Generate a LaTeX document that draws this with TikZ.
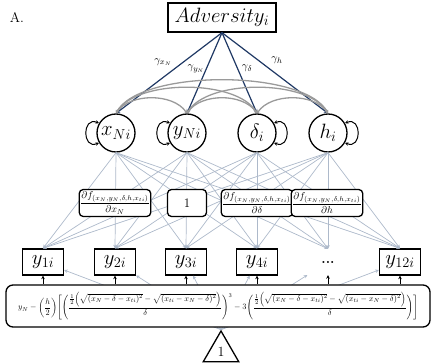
\documentclass[tikz,border=0pt]{standalone}
\usepackage{graphicx}
\usetikzlibrary{arrows.meta,shapes.geometric}
\definecolor{navy}{HTML}{1F3864}
\definecolor{loadc}{HTML}{ADB9CA}
\definecolor{covc}{HTML}{9A9A9A}
\begin{document}
\begin{tikzpicture}[x=1pt,y=1pt,
  lat/.style={circle,draw,line width=1.3pt,minimum size=38pt,inner sep=0pt,fill=white,font=\fontsize{20}{20}\selectfont},
  ind/.style={rectangle,draw,line width=1.3pt,minimum width=41pt,minimum height=26pt,inner sep=0pt,fill=white,font=\fontsize{20}{20}\selectfont},
  dots/.style={rectangle,minimum width=41pt,minimum height=26pt,inner sep=0pt,font=\fontsize{14}{14}\selectfont},
  der/.style={rectangle,rounded corners=4pt,draw,line width=1.3pt,minimum height=27pt,inner sep=1pt,fill=white,font=\fontsize{10}{11}\selectfont},
  load/.style={draw=loadc,line width=0.7pt,-{Stealth[length=3.5pt,width=3.5pt]}},
  reg/.style={draw=navy,line width=1.2pt,-{Stealth[length=4pt,width=4pt]}},
  cov/.style={draw=covc,line width=1.3pt,{Stealth[length=3pt,width=3.5pt]}-{Stealth[length=3pt,width=3.5pt]}},
  var/.style={draw=black,line width=1pt,{Stealth[length=3.5pt,width=3.5pt]}-{Stealth[length=3.5pt,width=3.5pt]}},
  mean/.style={draw=black,line width=1pt,-{Stealth[length=3.5pt,width=3.5pt]}},
  glab/.style={font=\fontsize{11}{11}\selectfont,inner sep=0pt}]
\useasboundingbox (0,0) rectangle (439,364);

\node[font=\fontsize{14}{14}\selectfont] (lblA) at (17,346) {A.};

% top exogenous
\node[rectangle,draw,line width=1.3pt,minimum width=108pt,minimum height=29pt,inner sep=0pt,font=\fontsize{22}{22}\selectfont] (adv) at (222,346.5) {$Adversity_i$};

% latent variables
\node[lat] (xn) at (116,231) {$x_{Ni}$};
\node[lat] (yn) at (187,231) {$y_{Ni}$};
\node[lat] (de) at (257,231) {$\delta_i$};
\node[lat] (hh) at (328,231) {$h_i$};

% indicators
\node[ind] (y1) at (43,102) {$y_{1i}$};
\node[ind] (y2) at (115,102) {$y_{2i}$};
\node[ind] (y3) at (186,102) {$y_{3i}$};
\node[ind] (y4) at (257,102) {$y_{4i}$};
\node[dots] (yd) at (328,102) {\textbf{...}};
\node[ind] (y12) at (400,102) {$y_{12i}$};

% triangle
\node[draw,line width=1.3pt,regular polygon,regular polygon sides=3,minimum size=41pt,inner sep=0pt,font=\fontsize{14}{14}\selectfont] (one) at (221,12.5) {1};

% regressions
\draw[reg] (adv.south) -- (xn.north);
\draw[reg] (adv.south) -- (yn.north);
\draw[reg] (adv.south) -- (de.north);
\draw[reg] (adv.south) -- (hh.north);
\node[glab] (gx) at (163,302) {$\gamma_{x_N}$};
\node[glab] (gy) at (196,295) {$\gamma_{y_N}$};
\node[glab] (gd) at (247,296) {$\gamma_{\delta}$};
\node[glab] (gh) at (277,304) {$\gamma_{h}$};

% covariances
\draw[cov] (xn.north) .. controls (140,295) and (304,295) .. (hh.north);
\draw[cov] (xn.north) .. controls (136,285) and (237,285) .. (de.north);
\draw[cov] (yn.north) .. controls (207,285) and (308,285) .. (hh.north);
\draw[cov] (xn.north) .. controls (130,271) and (173,271) .. (yn.north);
\draw[cov] (yn.north) .. controls (201,271) and (243,271) .. (de.north);
\draw[cov] (de.north) .. controls (271,271) and (314,271) .. (hh.north);

% variances
\draw[var] (xn.150) .. controls +(-17,7) and +(-17,-7) .. (xn.210);
\draw[var] (yn.150) .. controls +(-17,7) and +(-17,-7) .. (yn.210);
\draw[var] (de.30) .. controls +(17,7) and +(17,-7) .. (de.330);
\draw[var] (hh.30) .. controls +(17,7) and +(17,-7) .. (hh.330);

% loadings
\foreach \f in {xn,yn,de,hh}{
  \foreach \t in {y1,y2,y3,y4,yd,y12}{
    \draw[load] (\f.south) -- (\t.north);
  }
}

% constraint labels
\node[der,minimum width=61pt] (dx) at (115,161) {$\displaystyle\frac{\partial f_{(x_N,y_N,\delta,h,x_{ti})}}{\partial x_N}$};
\node[der,minimum width=39pt,font=\fontsize{13}{13}\selectfont] (d1) at (187,161) {1};
\node[der,minimum width=66pt] (dd) at (257,161) {$\displaystyle\frac{\partial f_{(x_N,y_N,\delta,h,x_{ti})}}{\partial \delta}$};
\node[der,minimum width=65pt] (dh) at (327,161) {$\displaystyle\frac{\partial f_{(x_N,y_N,\delta,h,x_{ti})}}{\partial h}$};

% intercept paths
\foreach \t in {y1,y2,y3,y4,yd,y12}{
  \draw[load] (one.corner 1) -- (\t);
}

% formula box
\node[rectangle,rounded corners=7pt,draw,line width=1.3pt,minimum width=424pt,minimum height=42pt,inner sep=0pt,fill=white] (form) at (218,58)
{\resizebox{400pt}{!}{$\displaystyle y_N-\biggl(\frac{h}{2}\biggr)\Biggl[\Biggl(\frac{\frac{1}{2}\Bigl(\sqrt{(x_N-\delta-x_{ti})^2}-\sqrt{(x_{ti}-x_N-\delta)^2}\Bigr)}{\delta}\Biggr)^{3}-3\Biggl(\frac{\frac{1}{2}\Bigl(\sqrt{(x_N-\delta-x_{ti})^2}-\sqrt{(x_{ti}-x_N-\delta)^2}\Bigr)}{\delta}\Biggr)\Biggr]$}};

% mean arrows
\foreach \t in {y1,y2,y3,y4,yd,y12}{
  \draw[mean] (\t.south |- form.north) -- (\t.south);
}
\end{tikzpicture}
\end{document}
